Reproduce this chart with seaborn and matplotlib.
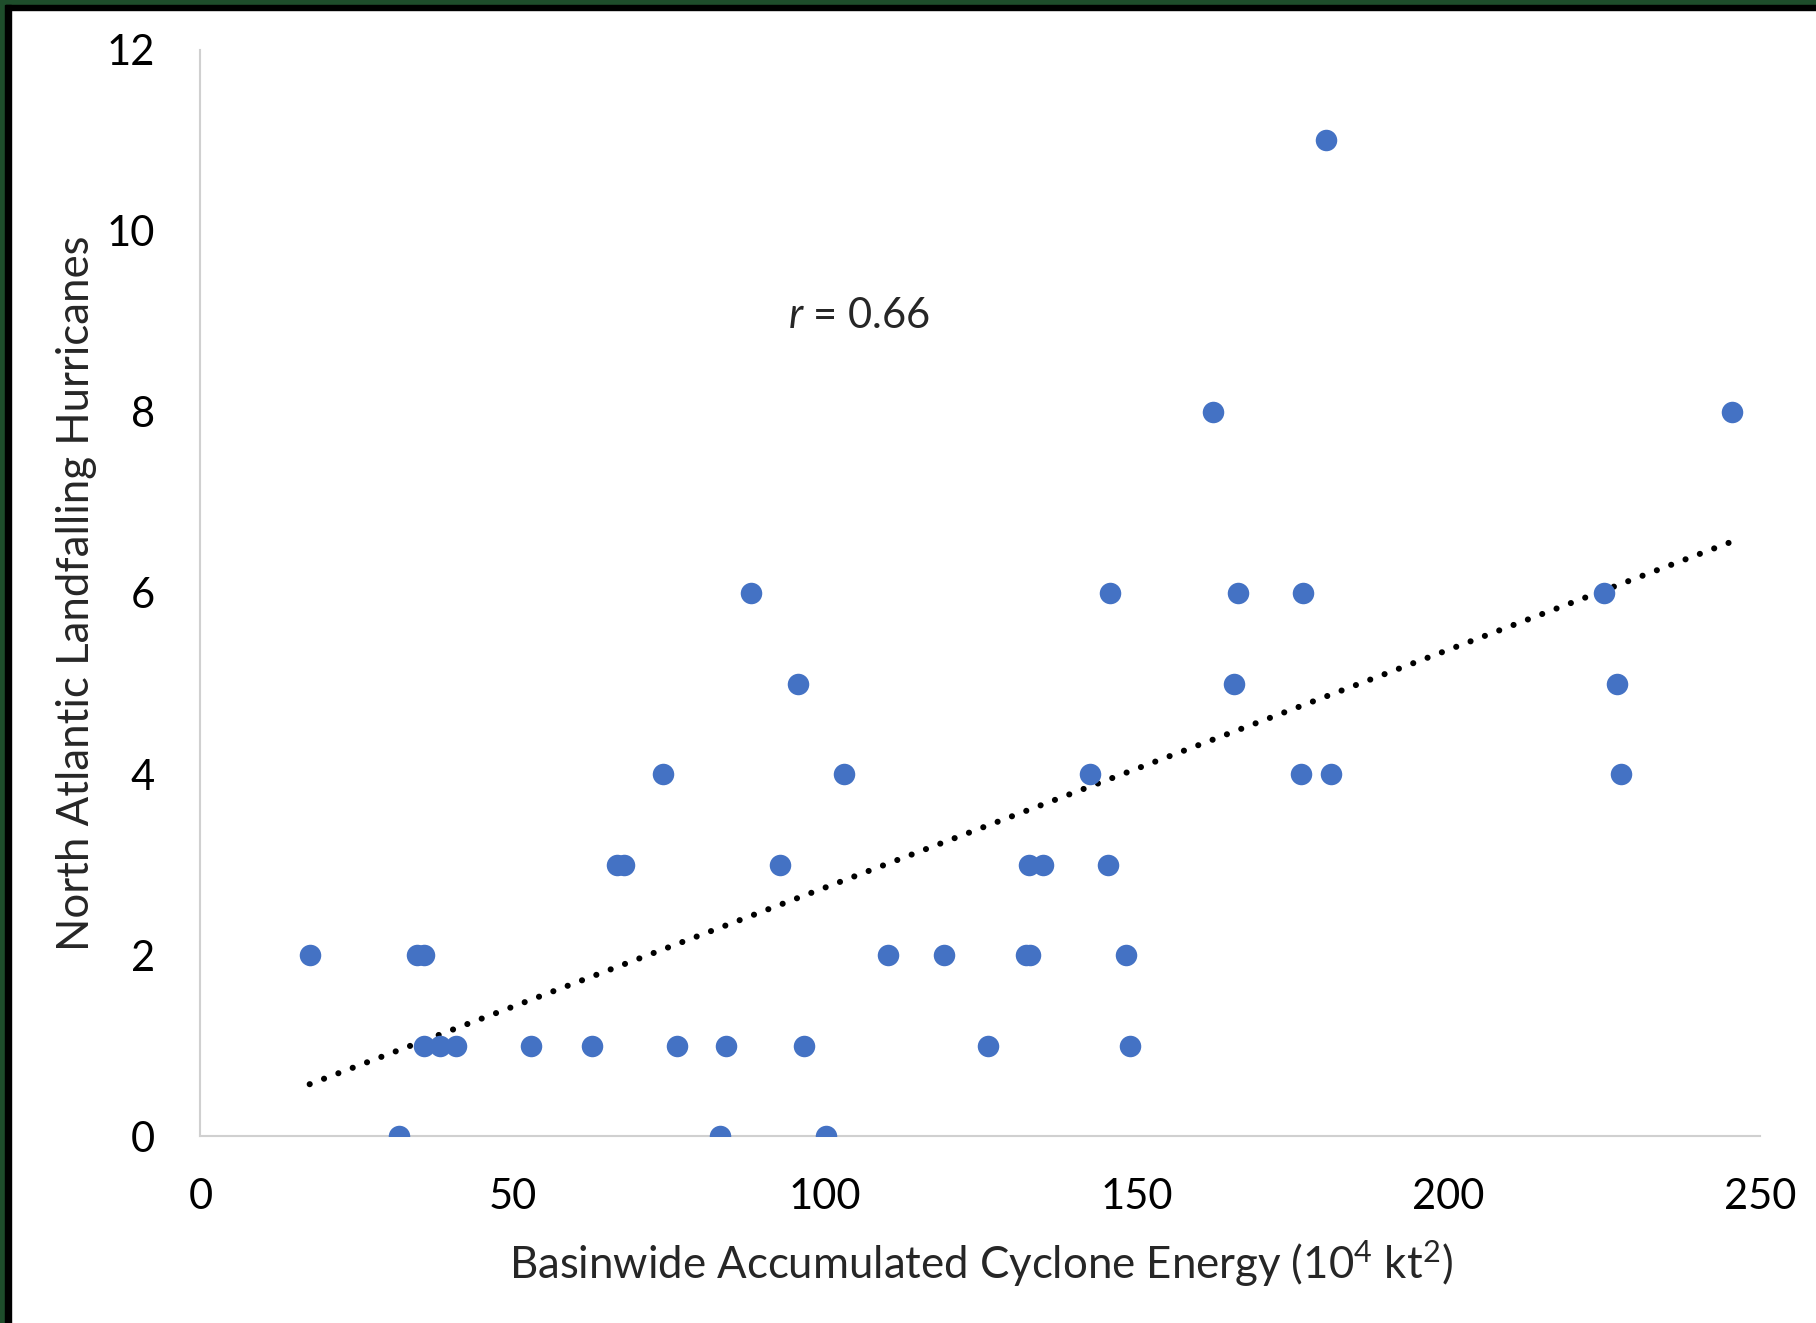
import matplotlib
matplotlib.use('Agg')
import matplotlib.pyplot as plt
import seaborn as sns
import pandas as pd
from matplotlib.patches import Rectangle

# Basinwide ACE (10^4 kt^2) vs. landfalling hurricanes
ace = [17.5, 31.8, 34.7, 35.8, 35.8, 38.4, 41.0, 52.9, 62.7, 66.8,
       67.8, 74.1, 76.3, 83.3, 84.3, 88.2, 92.9, 95.8, 96.7, 100.2,
       103.2, 110.2, 119.2, 126.2, 132.3, 133.0, 132.7, 135.0, 142.6, 145.5,
       145.7, 148.4, 149.0, 162.2, 165.7, 166.3, 176.3, 176.7, 180.4, 181.1,
       224.9, 227.0, 227.6, 245.5]
landfalls = [2, 0, 2, 2, 1, 1, 1, 1, 1, 3,
             3, 4, 1, 0, 1, 6, 3, 5, 1, 0,
             4, 2, 2, 1, 2, 2, 3, 3, 4, 3,
             6, 2, 1, 8, 5, 6, 4, 6, 11, 4,
             6, 5, 4, 8]
x_ticks = [0, 50, 100, 150, 200, 250]
y_ticks = [0, 2, 4, 6, 8, 10, 12]
r_label = 0.66

df = pd.DataFrame({'ace': ace, 'landfalls': landfalls})

sns.set_theme(style='white')
plt.rcParams['font.family'] = ['Lato', 'DejaVu Sans']
plt.rcParams['mathtext.fontset'] = 'custom'
plt.rcParams['mathtext.rm'] = 'Lato'
plt.rcParams['mathtext.it'] = 'Lato:italic'

fig = plt.figure(figsize=(18.16, 13.23), dpi=100)
ax = fig.add_axes([0.1104, 0.1412, 0.859, 0.8212])

sns.regplot(data=df, x='ace', y='landfalls', ax=ax, ci=None,
            scatter_kws={'s': 240, 'color': '#4472C4', 'alpha': 1,
                         'linewidths': 0, 'zorder': 3},
            line_kws={'color': 'black', 'lw': 4.4,
                      'linestyle': (0, (0.01, 2.5)),
                      'dash_capstyle': 'round', 'zorder': 2})

ax.set_xlim(0, 250)
ax.set_ylim(0, 12)
ax.set_xticks(x_ticks)
ax.set_yticks(y_ticks)
ax.tick_params(axis='both', length=0, labelsize=30, colors='black')
ax.tick_params(axis='y', pad=33)
ax.tick_params(axis='x', pad=30)

for side in ['top', 'right']:
    ax.spines[side].set_visible(False)
for side in ['left', 'bottom']:
    ax.spines[side].set_color('#d0d0d0')
    ax.spines[side].set_linewidth(1.5)

ax.set_xlabel('Basinwide Accumulated Cyclone Energy (10$^4$ kt$^2$)',
              fontsize=31.5, labelpad=16)
ax.set_ylabel('North Atlantic Landfalling Hurricanes', fontsize=31.5, labelpad=7)

ax.text(94.1, 9.06, '$r$ = {:.2f}'.format(r_label), fontsize=30,
        ha='left', va='center')

# screenshot frame: green + black edge on the top and left
fig.patches.append(Rectangle((0, 1 - 5 / 1323), 1, 5 / 1323,
                             transform=fig.transFigure, color='#1e4d2b', zorder=10))
fig.patches.append(Rectangle((0, 1 - 10 / 1323), 1, 5 / 1323,
                             transform=fig.transFigure, color='black', zorder=10))
fig.patches.append(Rectangle((0, 0), 5 / 1816, 1,
                             transform=fig.transFigure, color='#1e4d2b', zorder=11))
fig.patches.append(Rectangle((5 / 1816, 0), 6 / 1816, 1 - 5 / 1323,
                             transform=fig.transFigure, color='black', zorder=11))

fig.savefig('out.png', dpi=100, facecolor='white')
